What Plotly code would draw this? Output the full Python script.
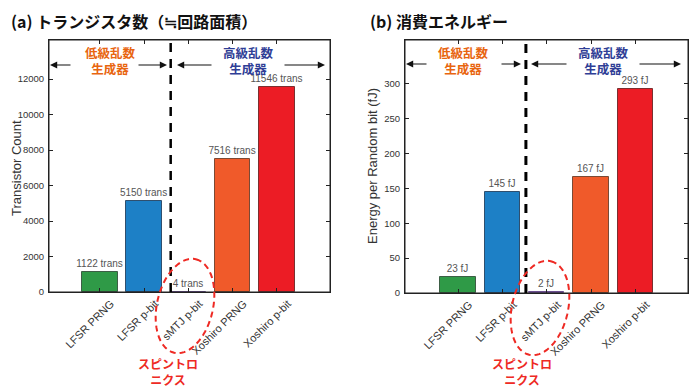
import numpy as np
import plotly.graph_objects as go

categories = ["LFSR PRNG", "LFSR p-bit", "sMTJ p-bit", "Xoshiro PRNG", "Xoshiro p-bit"]
transistors = [1122, 5150, 4, 7516, 11546]
energy_fJ = [23, 145, 2, 167, 293]
trans_labels = [f"{v} trans" for v in transistors]
energy_labels = [f"{v} fJ" for v in energy_fJ]
trans_ticks = [0, 2000, 4000, 6000, 8000, 10000, 12000]
energy_ticks = [0, 50, 100, 150, 200, 250, 300]

colors = ["#2f9a47", "#1d80c6", "#6b4f8f", "#f05a2a", "#ec1c25"]
outlines = ["#3d5e45", "#2f4f6e", "#6b4f8f", "#7a4a35", "#7a3030"]

W, H = 700, 392
OFF = 8  # page body margin
def px(x): return (x - OFF) / W
def py(y): return 1 - (y - OFF) / H

fig = go.Figure()
xs = list(range(len(categories)))
for vals, labels, xa, ya in [(transistors, trans_labels, "x", "y"), (energy_fJ, energy_labels, "x2", "y2")]:
    fig.add_trace(go.Bar(x=xs, y=vals, text=labels, textposition="outside",
                         constraintext="none", cliponaxis=False, width=0.8,
                         marker=dict(color=colors, line=dict(color=outlines, width=1)),
                         textfont=dict(size=10, color="#555", family="Liberation Sans, Arial"),
                         xaxis=xa, yaxis=ya, showlegend=False))

axcommon = dict(showline=True, linecolor="#222", linewidth=1, mirror="ticks", ticks="inside",
                ticklen=4, tickcolor="#222", showgrid=False, zeroline=False, automargin=False,
                tickfont=dict(size=9.5, color="#333", family="Liberation Sans, Arial"))
xcommon = dict(axcommon, tickvals=xs, ticktext=categories, tickangle=-45, ticklabelshift=11,
               tickfont=dict(size=11, color="#333", family="Liberation Sans, Arial"))

fig.update_layout(
    width=W, height=H, margin=dict(l=0, r=0, t=0, b=0, pad=0),
    template="none", paper_bgcolor="white", plot_bgcolor="white", bargap=0,
    xaxis=dict(xcommon, domain=[px(49), px(330)], range=[-1.15, 5.2], anchor="y"),
    yaxis=dict(axcommon, domain=[py(292), py(40)], range=[0, 14200], tickvals=trans_ticks,
               tickformat="d", ticklabelstandoff=2, anchor="x"),
    xaxis2=dict(xcommon, domain=[px(405), px(688)], range=[-1.2, 5.19], anchor="y2"),
    yaxis2=dict(axcommon, domain=[py(293), py(40)], range=[0, 363], tickvals=energy_ticks,
                tickformat="d", ticklabelstandoff=2, anchor="x2"),
)

shapes = []
for xa, ya in [("x", "y"), ("x2", "y2")]:
    shapes.append(dict(type="rect", xref=f"{xa} domain", yref=f"{ya} domain", x0=0, x1=1, y0=0, y1=1,
                       line=dict(color="#222", width=1), layer="above"))
shapes.append(dict(type="line", xref="x", yref="y domain", x0=1.6, x1=1.6, y0=0, y1=1,
                   line=dict(color="black", width=2.5, dash="9px,7px")))
shapes.append(dict(type="line", xref="x2", yref="y2 domain", x0=1.53, x1=1.53, y0=0, y1=1,
                   line=dict(color="black", width=3, dash="9px,7px")))

def ellipse_path(cx, cy, a=48, b=28, alpha_deg=13):
    al = np.radians(alpha_deg)
    u = np.array([np.sin(al), -np.cos(al)])
    v = np.array([np.cos(al), np.sin(al)])
    t = np.linspace(0, 2 * np.pi, 73)
    pts = [np.array([cx, cy]) + a * np.cos(tt) * u + b * np.sin(tt) * v for tt in t]
    return "M " + " L ".join(f"{px(p[0]):.5f},{py(p[1]):.5f}" for p in pts) + " Z"
for cx, cy in [(185, 306), (540, 308)]:
    shapes.append(dict(type="path", xref="paper", yref="paper", path=ellipse_path(cx, cy),
                       line=dict(color="#ee2a24", width=2, dash="6px,4px")))
fig.update_layout(shapes=shapes)

ann = []
jp = "Noto Sans CJK JP"
ann.append(dict(x=px(9), y=py(21), xref="paper", yref="paper", xanchor="left", yanchor="middle",
                text="<b>(a) トランジスタ数（≒回路面積）</b>", showarrow=False,
                font=dict(size=16, color="#111", family=jp)))
ann.append(dict(x=px(368), y=py(21), xref="paper", yref="paper", xanchor="left", yanchor="middle",
                text="<b>(b) 消費エネルギー</b>", showarrow=False,
                font=dict(size=16, color="#111", family=jp)))
ann.append(dict(x=px(16), y=py(168), xref="paper", yref="paper", xanchor="center", yanchor="middle",
                text="Transistor Count", textangle=-90, showarrow=False,
                font=dict(size=13, color="#333", family="Liberation Sans, Arial")))
ann.append(dict(x=px(372), y=py(166), xref="paper", yref="paper", xanchor="center", yanchor="middle",
                text="Energy per Random bit (fJ)", textangle=-90, showarrow=False,
                font=dict(size=13, color="#333", family="Liberation Sans, Arial")))

orange, navy, red = "#e8650f", "#2f3e96", "#ee2a24"
for cx, col, txt in [(110, orange, "低級乱数<br>生成器"), (248, navy, "高級乱数<br>生成器"),
                     (463, orange, "低級乱数<br>生成器"), (603, navy, "高級乱数<br>生成器")]:
    ann.append(dict(x=px(cx), y=py(60), xref="paper", yref="paper", xanchor="center", yanchor="middle",
                    text="<b>" + txt + "</b>", showarrow=False,
                    font=dict(size=12.5, color=col, family=jp), align="center"))
for cx in [168, 522]:
    ann.append(dict(x=px(cx), y=py(371), xref="paper", yref="paper", xanchor="center", yanchor="middle",
                    text="<b>スピントロ<br>ニクス</b>", showarrow=False,
                    font=dict(size=12, color=red, family=jp), align="center"))

arrows = [(50, 72, 65), (167, 137, 65), (177, 213, 65), (325, 283, 65),
          (406, 428, 64), (521, 500, 64), (531, 568, 64), (681, 638, 64)]
for tip, tail, yy in arrows:
    ann.append(dict(x=px(tip), y=py(yy), xref="paper", yref="paper", ax=tail - tip, ay=0,
                    axref="pixel", ayref="pixel", showarrow=True, arrowhead=2, arrowsize=1.2,
                    arrowwidth=1.2, arrowcolor="#111", text=""))
fig.update_layout(annotations=ann)

fig.write_html("out.html")
